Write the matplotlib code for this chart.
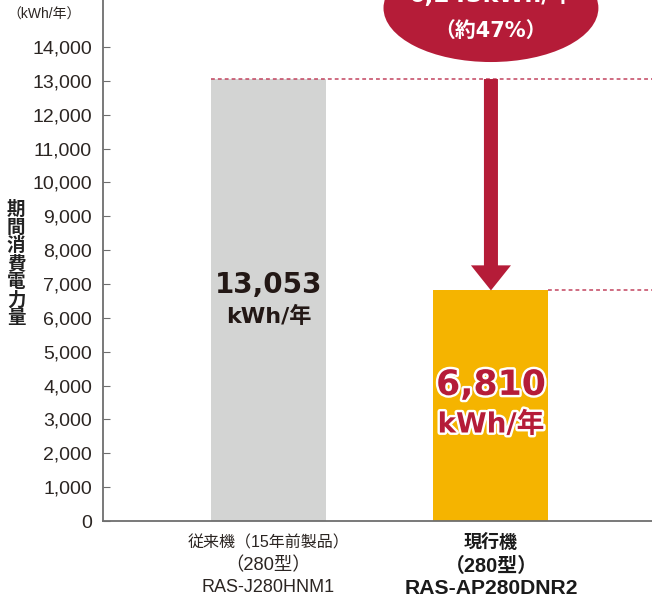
import matplotlib
matplotlib.use("Agg")
import matplotlib.pyplot as plt
import matplotlib.patheffects as pe
from matplotlib.patches import Ellipse, FancyArrow

# Annual power consumption of the old and current air conditioner models
cat_lines = [["従来機（15年前製品）", "（280型）", "RAS-J280HNM1"],
             ["現行機", "（280型）", "RAS-AP280DNR2"]]
consumption = [13053, 6810]           # kWh/年
yticks = list(range(0, 15000, 1000))
unit_label = "（kWh/年）"
ylabel = "期間消費電力量"

GRAY = "#d3d4d3"
ORANGE = "#f5b400"
RED = "#b51c38"
AXIS = "#6e6e6e"
TEXT = "#2b2522"

JP = ["Liberation Sans", "Noto Sans CJK JP"]
BIG = ["DejaVu Sans", "Noto Sans CJK JP"]

W, H = 652, 600
fig = plt.figure(figsize=(W / 100, H / 100), dpi=100)
ax = fig.add_axes([103 / W, (H - 521) / H, (W - 103) / W, 521 / H])

x = [0, 1]
ax.bar(x, consumption, width=0.517, color=[GRAY, ORANGE], zorder=2)

ax.set_xlim(-0.744, 1.724)
ax.set_ylim(0, 15387)

for s in ("top", "right"):
    ax.spines[s].set_visible(False)
for s in ("left", "bottom"):
    ax.spines[s].set_color(AXIS)
    ax.spines[s].set_linewidth(1.3)

ax.set_yticks(yticks)
ax.set_yticklabels([f"{v:,}" for v in yticks], family=JP, fontsize=14, color=TEXT)
ax.tick_params(axis="y", direction="in", length=5, color=AXIS, pad=8)

ax.set_xticks(x)
ax.set_xticklabels([])
ax.tick_params(axis="x", length=0)

# category labels below each bar, one text per line
line_y = [543, 566, 588]
styles = [
    [(11.5, "normal"), (13.2, "normal"), (13, "normal")],
    [(13, "bold"), (14.3, "bold"), (15.2, "bold")],
]
for xi, lines, sty in zip(x, cat_lines, styles):
    for txt, yp, (fs, fw) in zip(lines, line_y, sty):
        ax.annotate(txt, xy=(xi, 0), xycoords=("data", "axes fraction"),
                    xytext=(xi, 1 - yp / H), textcoords=("data", "figure fraction"),
                    ha="center", va="center", family=JP, fontsize=fs,
                    fontweight=fw, color=TEXT if fw == "normal" else "#1a1a1a",
                    annotation_clip=False)

# dashed guides at each bar's top
old, new = consumption
ax.plot([-0.2585, 1.724], [old, old], ls=(0, (2.5, 2)), color="#c2445f", lw=1.1,
        zorder=3, clip_on=False)
ax.plot([1.2585, 1.724], [new, new], ls=(0, (2.5, 2)), color="#c2445f", lw=1.1,
        zorder=3, clip_on=False)

# reduction arrow
head_len = 740
ax.add_patch(FancyArrow(1, old, 0, -(old - new), width=0.063, head_width=0.18,
                        head_length=head_len, length_includes_head=True,
                        color=RED, lw=0, zorder=4))

# value labels inside the bars
ax.text(0, 6960, f"{old:,}", ha="center", va="center", family=BIG,
        fontsize=20, fontweight="bold", color="#231815", zorder=5)
ax.text(0, 6030, "kWh/年", ha="center", va="center", family=BIG,
        fontsize=16, fontweight="bold", color="#231815", zorder=5)

stroke = [pe.withStroke(linewidth=3.5, foreground="white")]
ax.text(1, 4020, f"{new:,}", ha="center", va="center", family=BIG,
        fontsize=25, fontweight="bold", color=RED, zorder=5, path_effects=stroke)
ax.text(1, 2850, "kWh/年", ha="center", va="center", family=BIG,
        fontsize=20, fontweight="bold", color=RED, zorder=5, path_effects=stroke)

# reduction bubble
diff = old - new
pct = int(diff / old * 100)
ax.add_patch(Ellipse((1, 15150), 0.966, 3190, color=RED, lw=0, zorder=6,
                     clip_on=False))
ax.text(1, 15540, f"{diff:,}kWh/年", ha="center", va="center", family=BIG,
        fontsize=17, fontweight="bold", color="white", zorder=7, clip_on=False)
ax.text(1, 14460, f"（約{pct}%）", ha="center", va="center", family=BIG,
        fontsize=15, fontweight="bold", color="white", zorder=7, clip_on=False)

# unit and vertical axis title
fig.text(7 / W, 1 - 15 / H, unit_label, family=JP, fontsize=10, color=TEXT,
         ha="left", va="center")
fig.text(16 / W, 1 - 264 / H, "\n".join(ylabel), family=JP, fontsize=13.3,
         fontweight="bold", color="#222222", ha="center", va="center",
         linespacing=1.03)

fig.savefig("out.png", dpi=100)
